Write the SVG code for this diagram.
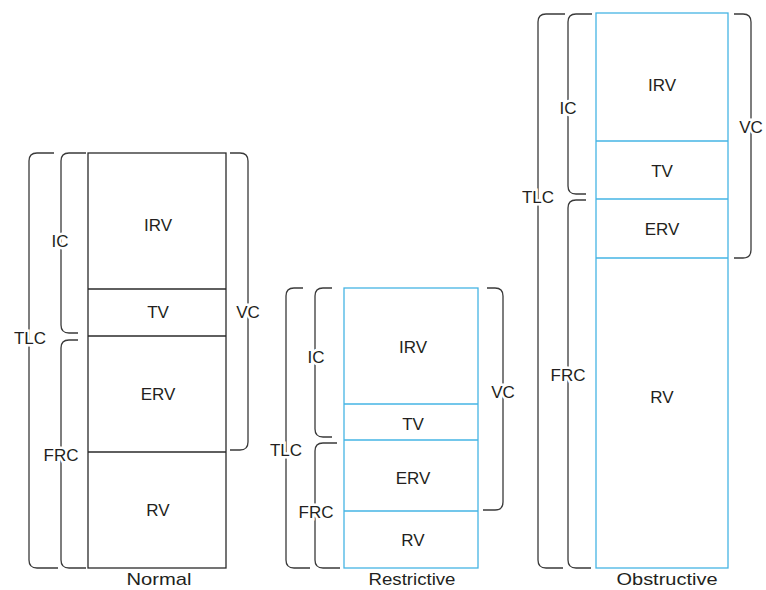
<svg xmlns="http://www.w3.org/2000/svg" width="766" height="590" viewBox="0 0 766 590">
<style>
  text { font-family: "Liberation Sans", Arial, sans-serif; font-size: 17px; fill: #231f20; text-anchor: middle; }
  .lbl { paint-order: stroke; stroke: #fff; stroke-width: 5px; }
  .cap { font-size: 17px; }
  .br { fill: none; stroke: #3a3a3a; stroke-width: 1.3; }
  .nbox { fill: #fff; stroke: #2a2a2a; stroke-width: 1.3; }
  .nline { stroke: #2a2a2a; stroke-width: 1.3; }
  .bbox { fill: #fff; stroke: #45b4e4; stroke-width: 1.3; }
  .bline { stroke: #45b4e4; stroke-width: 1.3; }
</style>
<rect width="766" height="590" fill="#fff"/>

<g id="connectors">
  <!-- Normal -->
  <path class="br" d="M54,153 H37 Q29,153 29,161 V560 Q29,568 37,568 H58"/>
  <path class="br" d="M86,153 H69 Q61,153 61,161 V325 Q61,333 69,333 H78"/>
  <path class="br" d="M78,340 H69 Q61,340 61,348 V560 Q61,568 69,568 H86"/>
  <path class="br" d="M230,153 H240 Q248,153 248,161 V442 Q248,450 240,450 H230"/>
  <!-- Restrictive -->
  <path class="br" d="M303,288 H294 Q286,288 286,296 V560 Q286,568 294,568 H310"/>
  <path class="br" d="M332,288 H323 Q315,288 315,296 V429 Q315,437 323,437 H332"/>
  <path class="br" d="M337,443 H323 Q315,443 315,451 V560 Q315,568 323,568 H340"/>
  <path class="br" d="M487,288 H495 Q503,288 503,296 V502 Q503,510 495,510 H483"/>
  <!-- Obstructive -->
  <path class="br" d="M565,14 H546 Q538,14 538,22 V560 Q538,568 546,568 H563"/>
  <path class="br" d="M592,14 H576 Q568,14 568,22 V186 Q568,194 576,194 H586"/>
  <path class="br" d="M586,200 H576 Q568,200 568,208 V560 Q568,568 576,568 H591"/>
  <path class="br" d="M734,14 H743 Q751,14 751,22 V250 Q751,258 743,258 H734"/>
</g>

<g id="normal">
  <rect class="nbox" x="88" y="153" width="138" height="415"/>
  <line class="nline" x1="88" y1="289" x2="226" y2="289"/>
  <line class="nline" x1="88" y1="336" x2="226" y2="336"/>
  <line class="nline" x1="88" y1="452" x2="226" y2="452"/>
  <text x="158" y="231">IRV</text>
  <text x="158" y="318">TV</text>
  <text x="158" y="400">ERV</text>
  <text x="158" y="516">RV</text>
  <text class="lbl" x="30" y="344">TLC</text>
  <text class="lbl" x="60" y="247">IC</text>
  <text class="lbl" x="61" y="461">FRC</text>
  <text class="lbl" x="248" y="318">VC</text>
  <text class="cap" x="159" y="585" textLength="65" lengthAdjust="spacingAndGlyphs">Normal</text>
</g>

<g id="restrictive">
  <rect class="bbox" x="344" y="288" width="134" height="280"/>
  <line class="bline" x1="344" y1="404" x2="478" y2="404"/>
  <line class="bline" x1="344" y1="440" x2="478" y2="440"/>
  <line class="bline" x1="344" y1="511" x2="478" y2="511"/>
  <text x="413" y="353">IRV</text>
  <text x="413" y="430">TV</text>
  <text x="413" y="484">ERV</text>
  <text x="413" y="546">RV</text>
  <text class="lbl" x="286" y="456">TLC</text>
  <text class="lbl" x="316" y="363">IC</text>
  <text class="lbl" x="316" y="518">FRC</text>
  <text class="lbl" x="503" y="398">VC</text>
  <text class="cap" x="412" y="585" textLength="87" lengthAdjust="spacingAndGlyphs">Restrictive</text>
</g>

<g id="obstructive">
  <rect class="bbox" x="596" y="13" width="132" height="555"/>
  <line class="bline" x1="596" y1="141" x2="728" y2="141"/>
  <line class="bline" x1="596" y1="199" x2="728" y2="199"/>
  <line class="bline" x1="596" y1="258" x2="728" y2="258"/>
  <text x="662" y="91">IRV</text>
  <text x="662" y="177">TV</text>
  <text x="662" y="235">ERV</text>
  <text x="662" y="403">RV</text>
  <text class="lbl" x="538" y="203">TLC</text>
  <text class="lbl" x="568" y="114">IC</text>
  <text class="lbl" x="568" y="381">FRC</text>
  <text class="lbl" x="751" y="133">VC</text>
  <text class="cap" x="667" y="585" textLength="101" lengthAdjust="spacingAndGlyphs">Obstructive</text>
</g>
</svg>
